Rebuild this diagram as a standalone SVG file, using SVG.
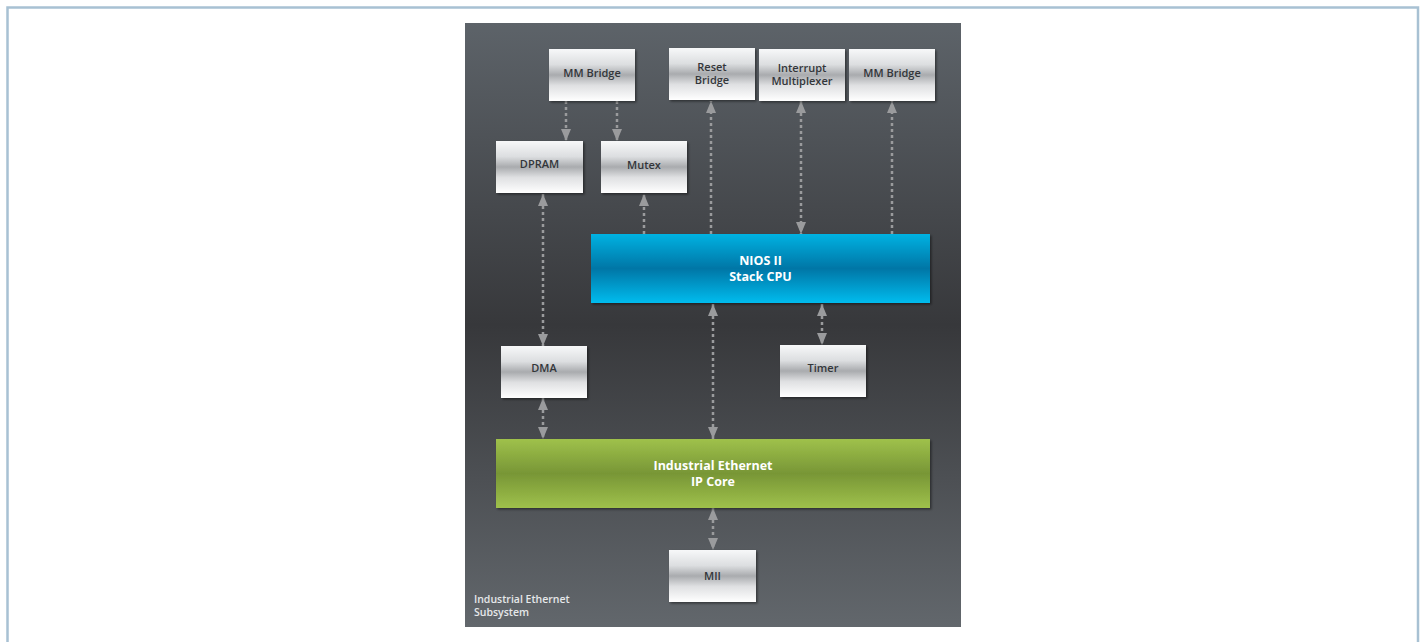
<svg xmlns="http://www.w3.org/2000/svg" width="1426" height="642" viewBox="0 0 1426 642">
<defs>
<linearGradient id="panel" x1="0" y1="0" x2="0" y2="1">
<stop offset="0" stop-color="#5d6369"/>
<stop offset="0.5" stop-color="#37383b"/>
<stop offset="1" stop-color="#62676c"/>
</linearGradient>
<linearGradient id="gray" x1="0" y1="0" x2="0" y2="1">
<stop offset="0" stop-color="#f7f8f9"/>
<stop offset="0.3" stop-color="#dcdee0"/>
<stop offset="0.5" stop-color="#a9abae"/>
<stop offset="0.7" stop-color="#dfe0e2"/>
<stop offset="1" stop-color="#ffffff"/>
</linearGradient>
<linearGradient id="blue" x1="0" y1="0" x2="0" y2="1">
<stop offset="0" stop-color="#06b2e2"/>
<stop offset="0.5" stop-color="#0576a6"/>
<stop offset="1" stop-color="#03bcee"/>
</linearGradient>
<linearGradient id="green" x1="0" y1="0" x2="0" y2="1">
<stop offset="0" stop-color="#9fc14b"/>
<stop offset="0.5" stop-color="#789636"/>
<stop offset="1" stop-color="#9fc14b"/>
</linearGradient>
<filter id="sh" x="-10%" y="-10%" width="130%" height="140%">
<feDropShadow dx="1.5" dy="1.5" stdDeviation="1" flood-color="#000" flood-opacity="0.45"/>
</filter>
<marker id="ah" viewBox="0 0 12 10" refX="12" refY="5" markerWidth="12" markerHeight="10" markerUnits="userSpaceOnUse" orient="auto-start-reverse">
<path d="M0,0 L12,5 L0,10 Z" fill="#9a9b9d"/>
</marker>
</defs>
<style>
.box{fill:url(#gray);filter:url(#sh)}
.t{font-family:"Open Sans","DejaVu Sans",sans-serif;font-weight:600;font-size:11px;fill:#33363a;text-anchor:middle}
.tw{font-family:"Open Sans","DejaVu Sans",sans-serif;font-weight:700;font-size:12.5px;fill:#ffffff;text-anchor:middle}
.c{stroke:#9a9b9d;stroke-width:2.5;stroke-dasharray:3 3;fill:none}
.lab{font-family:"Open Sans","DejaVu Sans",sans-serif;font-weight:600;font-size:10.5px;fill:#e6e8ea}
</style>
<rect x="0" y="0" width="1426" height="642" fill="#ffffff"/>
<path d="M7.5,645 V7.5 H1418 V645" fill="none" stroke="#a8c1d3" stroke-width="2.5"/>
<rect x="465" y="23" width="496" height="604" fill="url(#panel)"/>
<text class="lab" x="474" y="603">Industrial Ethernet</text>
<text class="lab" x="474" y="615.5">Subsystem</text>

<g id="connectors">
<path class="c" d="M566,101 V141" marker-end="url(#ah)"/>
<path class="c" d="M617,101 V141" marker-end="url(#ah)"/>
<path class="c" d="M711,234 V101" marker-end="url(#ah)"/>
<path class="c" d="M801,101 V234" marker-start="url(#ah)" marker-end="url(#ah)"/>
<path class="c" d="M892,234 V101" marker-end="url(#ah)"/>
<path class="c" d="M644,234 V194" marker-end="url(#ah)"/>
<path class="c" d="M543,194 V346" marker-start="url(#ah)" marker-end="url(#ah)"/>
<path class="c" d="M713,304 V439" marker-start="url(#ah)" marker-end="url(#ah)"/>
<path class="c" d="M822,304 V345" marker-start="url(#ah)" marker-end="url(#ah)"/>
<path class="c" d="M543,398 V439" marker-start="url(#ah)" marker-end="url(#ah)"/>
<path class="c" d="M713,508 V550" marker-start="url(#ah)" marker-end="url(#ah)"/>
</g>

<g id="mmbridge1"><rect class="box" x="549" y="49" width="86" height="52"/><text class="t" x="592" y="77">MM Bridge</text></g>
<g id="resetbridge"><rect class="box" x="669" y="48" width="86" height="52"/><text class="t" x="712" y="71">Reset</text><text class="t" x="712" y="84">Bridge</text></g>
<g id="interruptmux"><rect class="box" x="759" y="49" width="86" height="52"/><text class="t" x="802" y="72">Interrupt</text><text class="t" x="802" y="85">Multiplexer</text></g>
<g id="mmbridge2"><rect class="box" x="849" y="49" width="86" height="52"/><text class="t" x="892" y="77">MM Bridge</text></g>
<g id="dpram"><rect class="box" x="496" y="141" width="87" height="52"/><text class="t" x="539.5" y="168">DPRAM</text></g>
<g id="mutex"><rect class="box" x="601" y="141" width="86" height="52"/><text class="t" x="644" y="169">Mutex</text></g>
<g id="nios"><rect x="591" y="234" width="339" height="69" fill="url(#blue)" filter="url(#sh)"/><text class="tw" x="760.5" y="265">NIOS II</text><text class="tw" x="760.5" y="281">Stack CPU</text></g>
<g id="dma"><rect class="box" x="501" y="346" width="86" height="52"/><text class="t" x="544" y="372">DMA</text></g>
<g id="timer"><rect class="box" x="780" y="345" width="86" height="52"/><text class="t" x="823" y="372">Timer</text></g>
<g id="ieipcore"><rect x="496" y="439" width="434" height="69" fill="url(#green)" filter="url(#sh)"/><text class="tw" x="713" y="470">Industrial Ethernet</text><text class="tw" x="713" y="486">IP Core</text></g>
<g id="mii"><rect class="box" x="669" y="550" width="87" height="52"/><text class="t" x="712.5" y="580">MII</text></g>
</svg>
